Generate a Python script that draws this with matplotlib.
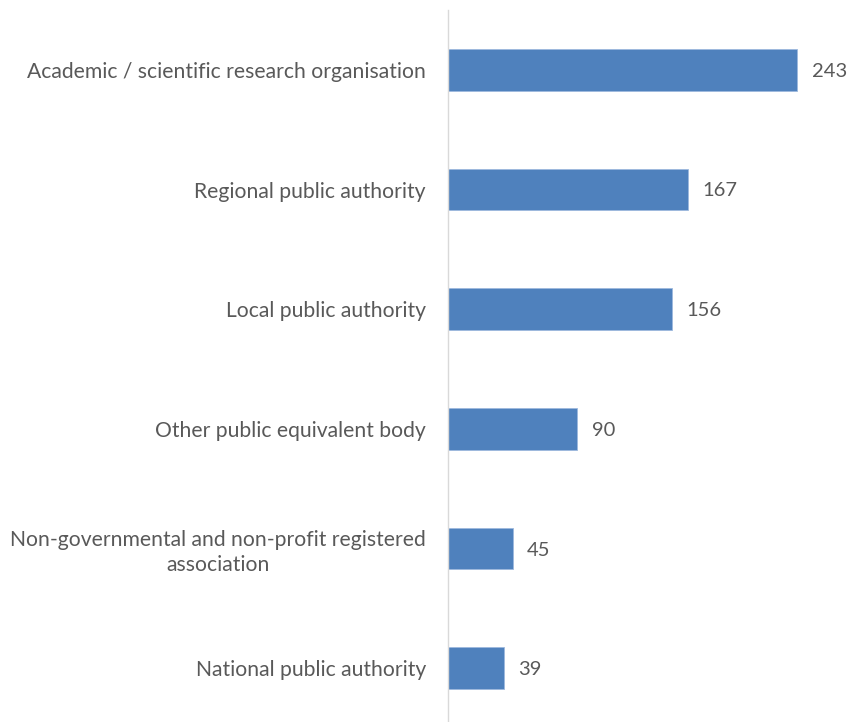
import matplotlib
matplotlib.use("Agg")
import matplotlib.pyplot as plt

categories = [
    "Academic / scientific research organisation",
    "Regional public authority",
    "Local public authority",
    "Other public equivalent body",
    "Non-governmental and non-profit registered\nassociation",
    "National public authority",
]
values = [243, 167, 156, 90, 45, 39]

bar_color = "#4F81BD"
text_color = "#595959"

plt.rcParams["font.family"] = ["Lato", "DejaVu Sans"]

fig = plt.figure(figsize=(8.48, 7.22), dpi=100)
ax = fig.add_axes([448 / 848, -6 / 722, 400 / 848, 718 / 722])

pos = list(range(len(categories)))
ax.barh(pos, values, height=0.35, color=bar_color, edgecolor="#9DB9DE", linewidth=0.6)

ax.set_xlim(0, 400 / 1.436)
ax.set_ylim(len(categories) - 0.5, -0.5)

for y, v in zip(pos, values):
    ax.annotate(str(v), xy=(v, y), xytext=(10.5, 0), textcoords="offset points",
                ha="left", va="center_baseline", fontsize=14.5, color=text_color)

ax.set_yticks(pos)
ax.set_yticklabels(categories, fontsize=15.2, color=text_color,
                   multialignment="center", linespacing=1.3)
ax.tick_params(axis="y", length=0, pad=16)
ax.set_xticks([])

for side in ("top", "right", "bottom"):
    ax.spines[side].set_visible(False)
ax.spines["left"].set_color("#D9D9D9")
ax.spines["left"].set_linewidth(1.0)

fig.savefig("out.png", dpi=100, facecolor="white")
